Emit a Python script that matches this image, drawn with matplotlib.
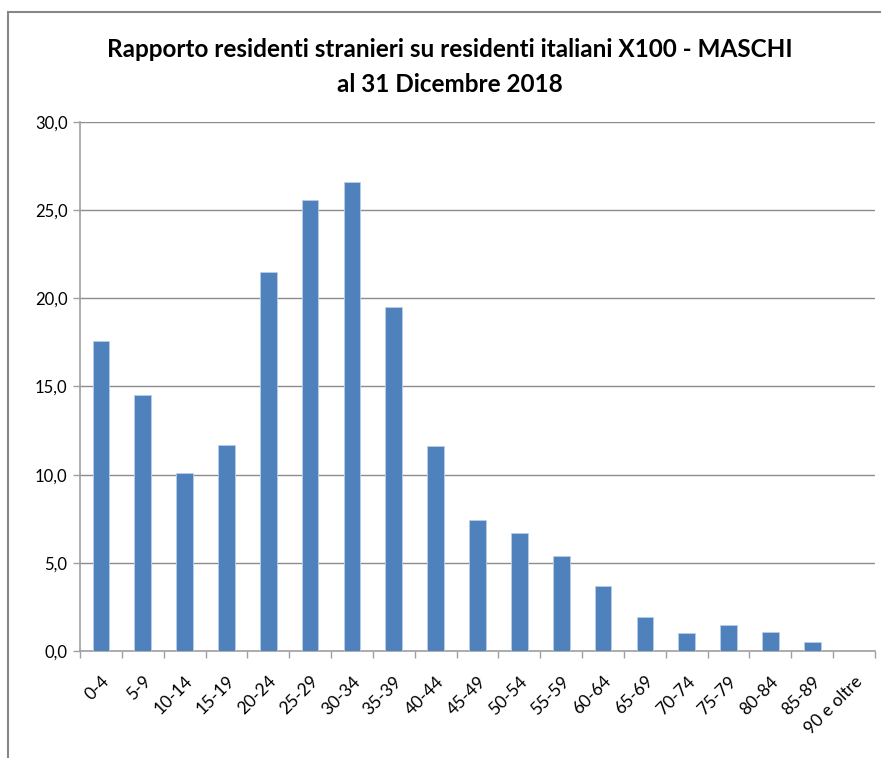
import numpy as np
import matplotlib
matplotlib.use('Agg')
import matplotlib.pyplot as plt
from matplotlib.patches import Rectangle

plt.rcParams['font.family'] = ['Lato', 'DejaVu Sans']

# age classes and ratio foreigners / italians x100 (males)
classi = ['0-4', '5-9', '10-14', '15-19', '20-24', '25-29', '30-34', '35-39',
          '40-44', '45-49', '50-54', '55-59', '60-64', '65-69', '70-74',
          '75-79', '80-84', '85-89', '90 e oltre']
rapporto = [17.6, 14.5, 10.1, 11.7, 21.5, 25.6, 26.6, 19.5,
            11.6, 7.4, 6.7, 5.4, 3.7, 1.9, 1.0, 1.5, 1.1, 0.5, 0.0]
y_ticks = [0, 5, 10, 15, 20, 25, 30]

fig = plt.figure(figsize = (8.81, 7.58), dpi = 100)
ax = fig.add_axes([0.0908, 0.1412, 0.9024, 0.6979])

x = np.arange(len(classi))
ax.bar(x, rapporto, width = 0.4, color = '#4F81BD', edgecolor = '#B9CDE5', linewidth = 0.6, zorder = 3)

ax.set_xlim(-0.5, len(classi) - 0.5)
ax.set_ylim(0, 30)
ax.set_yticks(y_ticks)
ax.set_yticklabels([('%.1f' % v).replace('.', ',') for v in y_ticks], fontsize = 12)
ax.yaxis.grid(True, color = '#8C8C8C', linewidth = 1.0, zorder = 0)

# labels at centres, tick marks at category boundaries
ax.set_xticks(x)
ax.set_xticklabels(classi, rotation = 45, ha = 'right', rotation_mode = 'anchor', fontsize = 12.5)
ax.set_xticks(np.arange(len(classi) + 1) - 0.5, minor = True)
ax.tick_params(axis = 'x', which = 'major', length = 0, pad = 16)
ax.tick_params(axis = 'x', which = 'minor', length = 5, color = '#A0A0A0', width = 1)
ax.tick_params(axis = 'y', length = 5, color = '#A0A0A0', width = 1, pad = 4)

for s in ['top', 'right']:
    ax.spines[s].set_visible(False)
for s in ['left', 'bottom']:
    ax.spines[s].set_color('#A0A0A0')
    ax.spines[s].set_linewidth(1.2)

fig.text(0.511, 0.935, 'Rapporto residenti stranieri su residenti italiani X100 - MASCHI',
         ha = 'center', va = 'center', fontsize = 17.5, fontweight = 'bold')
fig.text(0.511, 0.888, 'al 31 Dicembre 2018', ha = 'center', va = 'center',
         fontsize = 17.5, fontweight = 'bold')

# chart area border (cut at right and bottom edge, like the screenshot)
fig.patches.append(Rectangle((8 / 881, -0.05), 1.2, (758 - 12) / 758 + 0.05,
                             transform = fig.transFigure, fill = False,
                             edgecolor = '#878787', linewidth = 1.5))

fig.savefig('out.png', dpi = 100)
